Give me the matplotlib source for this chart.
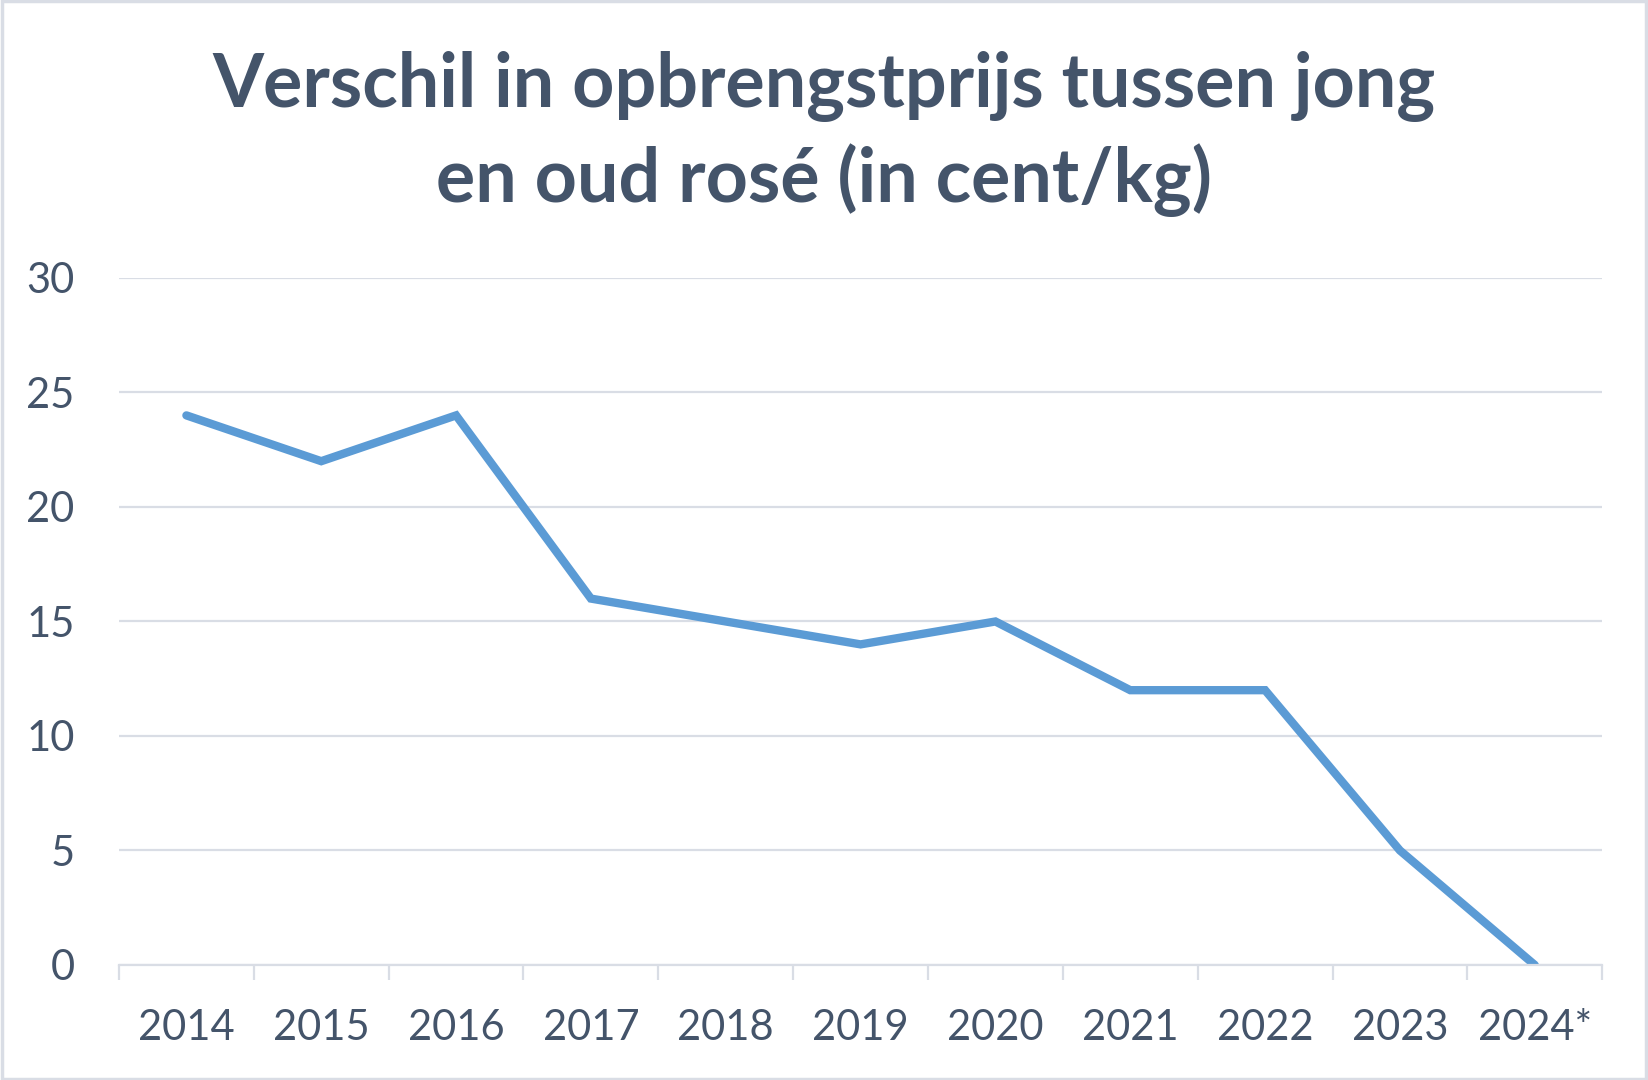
import matplotlib.pyplot as plt
import numpy as np
from matplotlib.patches import Rectangle

years = ['2014', '2015', '2016', '2017', '2018', '2019', '2020', '2021', '2022', '2023', '2024*']
difference = [24, 22, 24, 16, 15, 14, 15, 12, 12, 5, 0]
yticks = [0, 5, 10, 15, 20, 25, 30]

text_color = '#44546A'
grid_color = '#D9DDE5'
line_color = '#5B9BD5'

plt.rcParams['font.family'] = ['Lato', 'DejaVu Sans']

fig = plt.figure(figsize=(16.48, 10.8), dpi=100)
ax = fig.add_axes([0.0722, 0.1065, 0.9, 0.6361])

x = np.arange(len(years))
ax.plot(x, difference, color=line_color, linewidth=6, solid_capstyle='round', solid_joinstyle='miter')

ax.set_xlim(-0.5, len(years) - 0.5)
ax.set_ylim(0, 30)
ax.set_yticks(yticks)
ax.set_yticklabels([str(v) for v in yticks])
ax.set_xticks(x)
ax.set_xticklabels(years)
ax.set_xticks(np.arange(len(years) + 1) - 0.5, minor=True)

ax.grid(axis='y', color=grid_color, linewidth=1.6)
ax.set_axisbelow(True)
for side in ['top', 'right', 'left']:
    ax.spines[side].set_visible(False)
ax.spines['bottom'].set_color(grid_color)
ax.spines['bottom'].set_linewidth(1.6)

ax.tick_params(axis='x', which='major', length=0, pad=32, labelsize=30, labelcolor=text_color)
ax.tick_params(axis='x', which='minor', length=11, width=1.6, color=grid_color)
ax.tick_params(axis='y', length=0, pad=32, labelsize=30, labelcolor=text_color)

fig.text(0.5, 0.876, 'Verschil in opbrengstprijs tussen jong\nen oud rosé (in cent/kg)',
         ha='center', va='center', fontsize=53, fontweight='bold', color=text_color,
         linespacing=1.36)

fig.patches.append(Rectangle((0.001, 0.001), 0.998, 0.998, transform=fig.transFigure,
                             fill=False, edgecolor='#D9DDE5', linewidth=2.5))

fig.savefig('out.png', dpi=100)
